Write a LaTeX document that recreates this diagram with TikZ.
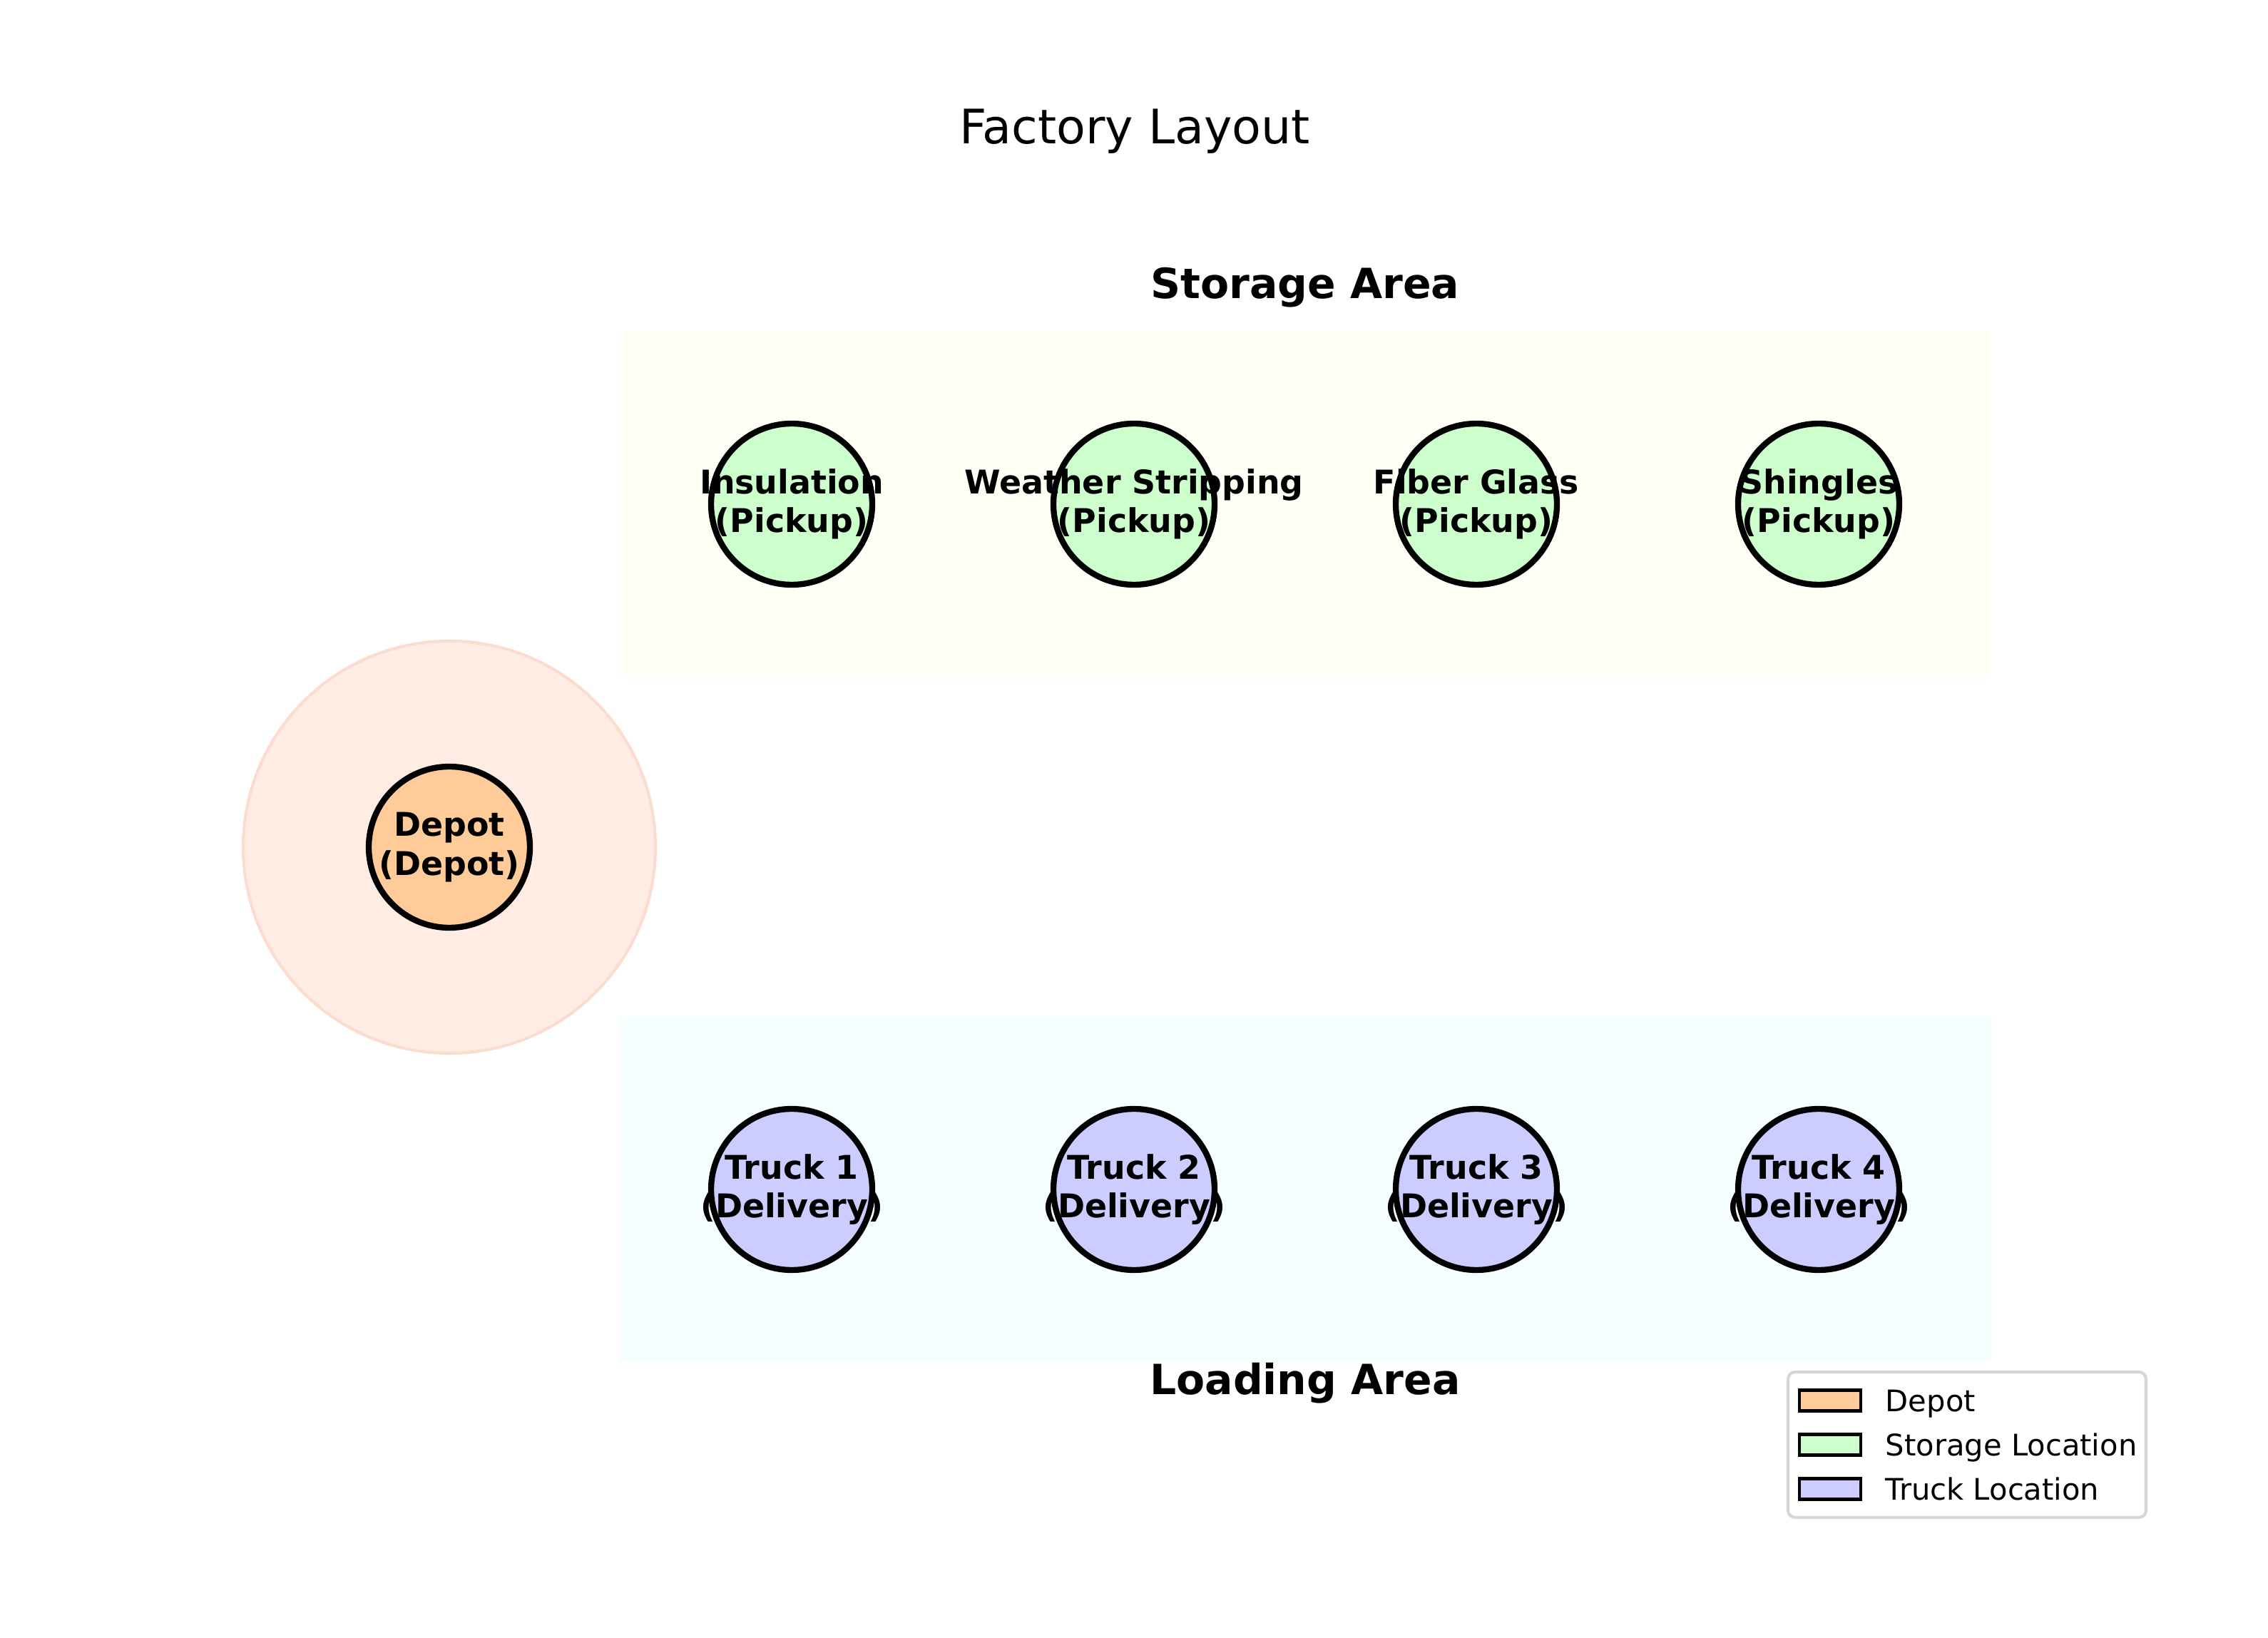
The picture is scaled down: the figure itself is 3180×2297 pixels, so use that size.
\documentclass[tikz,border=0pt]{standalone}
\usepackage{fontspec}
\setmainfont{DejaVu Sans}
\definecolor{depotc}{HTML}{FFCC99}
\definecolor{storc}{HTML}{CCFFCC}
\definecolor{truckc}{HTML}{CCCCFF}
\definecolor{halofill}{HTML}{FFECE4}
\definecolor{haloedge}{HTML}{FDDCD0}
\definecolor{storbg}{HTML}{FFFFF6}
\definecolor{loadbg}{HTML}{F6FFFF}
\definecolor{legedge}{HTML}{D6D6D6}
\begin{document}
\begin{tikzpicture}[x=0.24pt,y=-0.24pt,
  loc/.style={circle, draw=black, line width=2pt, minimum size=54.24pt, inner sep=0pt},
  lbl/.style={font=\bfseries\fontsize{11}{13}\selectfont, align=center, inner sep=0pt},
  area/.style={font=\bfseries\fontsize{14}{16.8}\selectfont, anchor=base, inner sep=0pt},
  legpatch/.style={rectangle, draw=black, line width=1pt, minimum width=20.64pt, minimum height=6.96pt, inner sep=0pt},
  legtext/.style={font=\fontsize{10}{12}\selectfont, anchor=base west, inner sep=0pt}]
\useasboundingbox (0,0) rectangle (3180,2297);
\fill[white] (0,0) rectangle (3180,2297);
% areas
\fill[storbg] (868,466) rectangle (2791,948);
\fill[loadbg] (868,1427) rectangle (2791,1909);
\node[area] (storlbl) at (1830,419) {Storage Area};
\node[area] (loadlbl) at (1830,1955) {Loading Area};
% title
\node[font=\fontsize{16}{19}\selectfont, anchor=base, inner sep=0pt] (title) at (1591,202) {Factory Layout};
% depot
\node[circle, fill=halofill, draw=haloedge, line width=1pt, minimum size=138.72pt, inner sep=0pt] (halo) at (630,1188) {};
\node[loc, fill=depotc] (depot) at (630,1188) {};
\node[lbl] (depott) at (depot) {Depot\\(Depot)};
% storage
\node[loc, fill=storc] (s1) at (1110,707) {};
\node[loc, fill=storc] (s2) at (1590,707) {};
\node[loc, fill=storc] (s3) at (2070,707) {};
\node[loc, fill=storc] (s4) at (2550,707) {};
\node[lbl] (s1t) at (s1) {Insulation\\(Pickup)};
\node[lbl] (s2t) at (s2) {Weather Stripping\\(Pickup)};
\node[lbl] (s3t) at (s3) {Fiber Glass\\(Pickup)};
\node[lbl] (s4t) at (s4) {Shingles\\(Pickup)};
% trucks
\node[loc, fill=truckc] (t1) at (1110,1668) {};
\node[loc, fill=truckc] (t2) at (1590,1668) {};
\node[loc, fill=truckc] (t3) at (2070,1668) {};
\node[loc, fill=truckc] (t4) at (2550,1668) {};
\node[lbl] (t1t) at (t1) {Truck 1\\(Delivery)};
\node[lbl] (t2t) at (t2) {Truck 2\\(Delivery)};
\node[lbl] (t3t) at (t3) {Truck 3\\(Delivery)};
\node[lbl] (t4t) at (t4) {Truck 4\\(Delivery)};
% legend
\draw[legedge, line width=1pt, rounded corners=2.4pt, fill=white] (2507,1924) rectangle (3009,2128);
\node[legpatch, fill=depotc] (lp1) at (2566,1964) {};
\node[legpatch, fill=storc] (lp2) at (2566,2026) {};
\node[legpatch, fill=truckc] (lp3) at (2566,2088) {};
\node[legtext] (lt1) at (2643,1979) {Depot};
\node[legtext] (lt2) at (2643,2041) {Storage Location};
\node[legtext] (lt3) at (2643,2103) {Truck Location};
\end{tikzpicture}
\end{document}
